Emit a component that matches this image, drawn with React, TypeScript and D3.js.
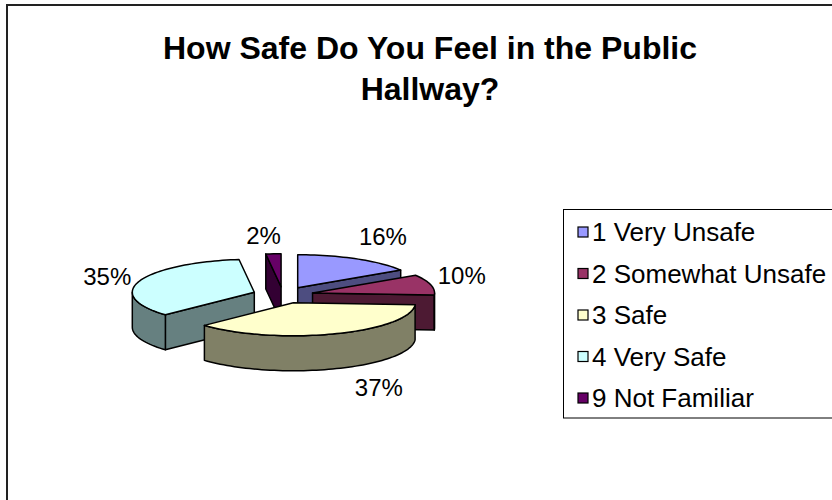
import React from 'react';
import * as d3 from 'd3';

const categories = ['1 Very Unsafe', '2 Somewhat Unsafe', '3 Safe', '4 Very Safe', '9 Not Familiar'];
const values = [16, 10, 37, 35, 2];
const colors = ['#9999FF', '#993366', '#FFFFCC', '#CCFFFF', '#660066'];
const titleLines = ['How Safe Do You Feel in the Public', 'Hallway?'];

const W = 832;
const H = 500;
const cx = 283;
const cy = 295;
const rx = 122;
const ry = 33;
const depth = 35;
const explode = 0.25;
const FONT = '"Liberation Sans", Arial, sans-serif';

function shade(c: string, k: number) {
  const col = d3.rgb(c);
  return d3.rgb(col.r * k, col.g * k, col.b * k).formatHex();
}

function arcPts(ax: number, ay: number, a0: number, a1: number, dy = 0) {
  const n = Math.max(2, Math.ceil(((a1 - a0) * 180) / Math.PI / 2));
  const pts: [number, number][] = [];
  for (let i = 0; i <= n; i++) {
    const a = a0 + ((a1 - a0) * i) / n;
    pts.push([ax + rx * Math.sin(a), ay - ry * Math.cos(a) + dy]);
  }
  return pts;
}

export default function App() {
  const pie = d3.pie<number>().sort(null).startAngle(0).endAngle(2 * Math.PI);
  const arcs = pie(values);
  const total = d3.sum(values);
  const fmt = d3.format('.0%');
  const line = d3.line();

  const slices = arcs.map((a, i) => {
    const m = (a.startAngle + a.endAngle) / 2;
    const ax = cx + explode * rx * Math.sin(m);
    const ay = cy - explode * ry * Math.cos(m);
    return { a, i, m, ax, ay };
  });
  const order = [...slices].sort((p, q) => p.ay - q.ay);

  const labelNudge: Record<number, [number, number]> = { 0: [12, -3], 1: [2, -4], 2: [34, -2], 3: [-4, 3], 4: [-8, 4] };

  return (
    <svg width={W} height={H} style={{ position: 'absolute', left: 0, top: 0, background: '#fff' }}>
      <rect x={7} y={5} width={W + 20} height={H + 20} fill="#fff" stroke="#222" strokeWidth={2} />
      {titleLines.map((t, i) => (
        <text key={i} x={430} y={59 + i * 41} textAnchor="middle" fontFamily={FONT} fontWeight="bold" fontSize={32} fill="#000">
          {t}
        </text>
      ))}
      <g stroke="#000" strokeWidth={1.5} strokeLinejoin="round">
        {order.map(({ a, i, ax, ay }) => {
          const s = a.startAngle;
          const e = a.endAngle;
          const dark = shade(colors[i], 0.5);
          const ps: [number, number] = [ax + rx * Math.sin(s), ay - ry * Math.cos(s)];
          const pe: [number, number] = [ax + rx * Math.sin(e), ay - ry * Math.cos(e)];
          const faces: React.ReactNode[] = [];
          if (Math.sin(s) < -1e-6) {
            faces.push(
              <path key="fs" fill={dark} d={line([[ax, ay], ps, [ps[0], ps[1] + depth], [ax, ay + depth]])! + 'Z'} />
            );
          }
          if (Math.sin(e) > 1e-6) {
            faces.push(
              <path key="fe" fill={dark} d={line([[ax, ay], pe, [pe[0], pe[1] + depth], [ax, ay + depth]])! + 'Z'} />
            );
          }
          const o0 = Math.max(s, Math.PI / 2);
          const o1 = Math.min(e, (3 * Math.PI) / 2);
          if (o0 < o1) {
            const top = arcPts(ax, ay, o0, o1);
            const bot = arcPts(ax, ay, o0, o1, depth).reverse();
            faces.push(<path key="fo" fill={dark} d={line([...top, ...bot])! + 'Z'} />);
          }
          const topFace = [[ax, ay] as [number, number], ...arcPts(ax, ay, s, e)];
          faces.push(<path key="ft" fill={colors[i]} d={line(topFace)! + 'Z'} />);
          return <g key={i}>{faces}</g>;
        })}
      </g>
      {slices.map(({ i, m, ax, ay }) => {
        const front = Math.cos(m) < 0 ? depth : 0;
        const nd = labelNudge[i] || [0, 0];
        const lx = ax + (rx + 30) * Math.sin(m) + nd[0];
        const ly = ay - (ry + 22) * Math.cos(m) + front + nd[1];
        return (
          <text key={i} x={lx} y={ly} textAnchor="middle" dominantBaseline="central" fontFamily={FONT} fontSize={24} fill="#000">
            {fmt(values[i] / total)}
          </text>
        );
      })}
      <rect x={563.5} y={209.5} width={300} height={208.5} fill="#fff" stroke="#000" strokeWidth={1} />
      {categories.map((c, i) => {
        const yc = 232 + i * 41.5;
        return (
          <g key={c}>
            <rect x={578} y={yc - 5} width={10} height={10} fill={colors[i]} stroke="#000" strokeWidth={1.2} />
            <text x={592} y={yc} dominantBaseline="central" fontFamily={FONT} fontSize={26} fill="#000">
              {c}
            </text>
          </g>
        );
      })}
    </svg>
  );
}
